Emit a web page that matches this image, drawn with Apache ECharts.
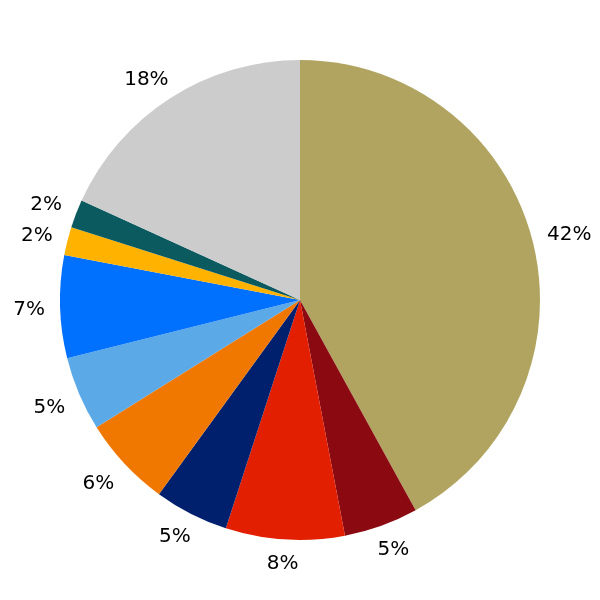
<!DOCTYPE html>
<html>
<head>
<meta charset="utf-8">
<script src="https://cdn.jsdelivr.net/npm/echarts@6/dist/echarts.min.js"></script>
<style>
	html, body { margin: 0; padding: 0; background: #fff; }
	#chart { width: 600px; height: 600px; }
</style>
</head>
<body>
<div id="chart"></div>
<script type="text/javascript">
	// slices, clockwise from 12 o'clock
	var sliceNames = ['A', 'B', 'C', 'D', 'E', 'F', 'G', 'H', 'I', 'J'];
	var sliceValues = [42.0, 5.0, 8.0, 5.0, 6.1, 5.0, 6.9, 1.9, 1.9, 18.2];
	var sliceColors = ['#b0a460', '#8b0a12', '#e21f00', '#00206e', '#f07800',
		'#5ba9e6', '#0070ff', '#ffb300', '#0a5a60', '#cccccc'];

	var cx = 300, cy = 300, pieR = 240;
	var labelGap = 15;

	function clamp1(v) { return Math.max(-1, Math.min(1, v)); }

	var pieData = [];
	for (var i = 0; i < sliceValues.length; i++) {
		pieData.push({ name: sliceNames[i], value: sliceValues[i], itemStyle: { color: sliceColors[i] } });
	}

	var option = {
		animation: false,
		series: [
			{
				type: 'pie',
				center: [cx, cy],
				radius: [0, pieR],
				startAngle: 90,
				clockwise: true,
				silent: true,
				label: { show: false },
				labelLine: { show: false },
				data: pieData
			},
			{
				// invisible ring only used to place the percentage labels
				type: 'pie',
				center: [cx, cy],
				radius: [pieR, pieR + 60],
				startAngle: 90,
				clockwise: true,
				silent: true,
				itemStyle: { color: 'rgba(0,0,0,0)' },
				label: {
					show: true,
					position: 'inside',
					color: '#000',
					fontFamily: 'DejaVu Sans',
					fontSize: 20,
					formatter: function (p) { return Math.round(p.percent) + '%'; }
				},
				labelLine: { show: false },
				// anchor just outside the rim, then slide the text box away from it by direction
				labelLayout: function (params) {
					var r = params.labelRect;
					var mx = r.x + r.width / 2 - cx;
					var my = r.y + r.height / 2 - cy;
					var len = Math.sqrt(mx * mx + my * my);
					var ux = mx / len, uy = my / len;
					var d = pieR + labelGap;
					var hw = r.width / 2, hh = 7.5;
					return {
						x: cx + ux * d + clamp1(1.3 * ux) * hw,
						y: cy + uy * d + clamp1(2 * uy) * hh + 2
					};
				},
				data: sliceValues.map(function (v, k) { return { name: sliceNames[k], value: v }; })
			}
		]
	};

	var myChart = echarts.init(document.getElementById('chart'));
	myChart.setOption(option);
</script>
</body>
</html>
